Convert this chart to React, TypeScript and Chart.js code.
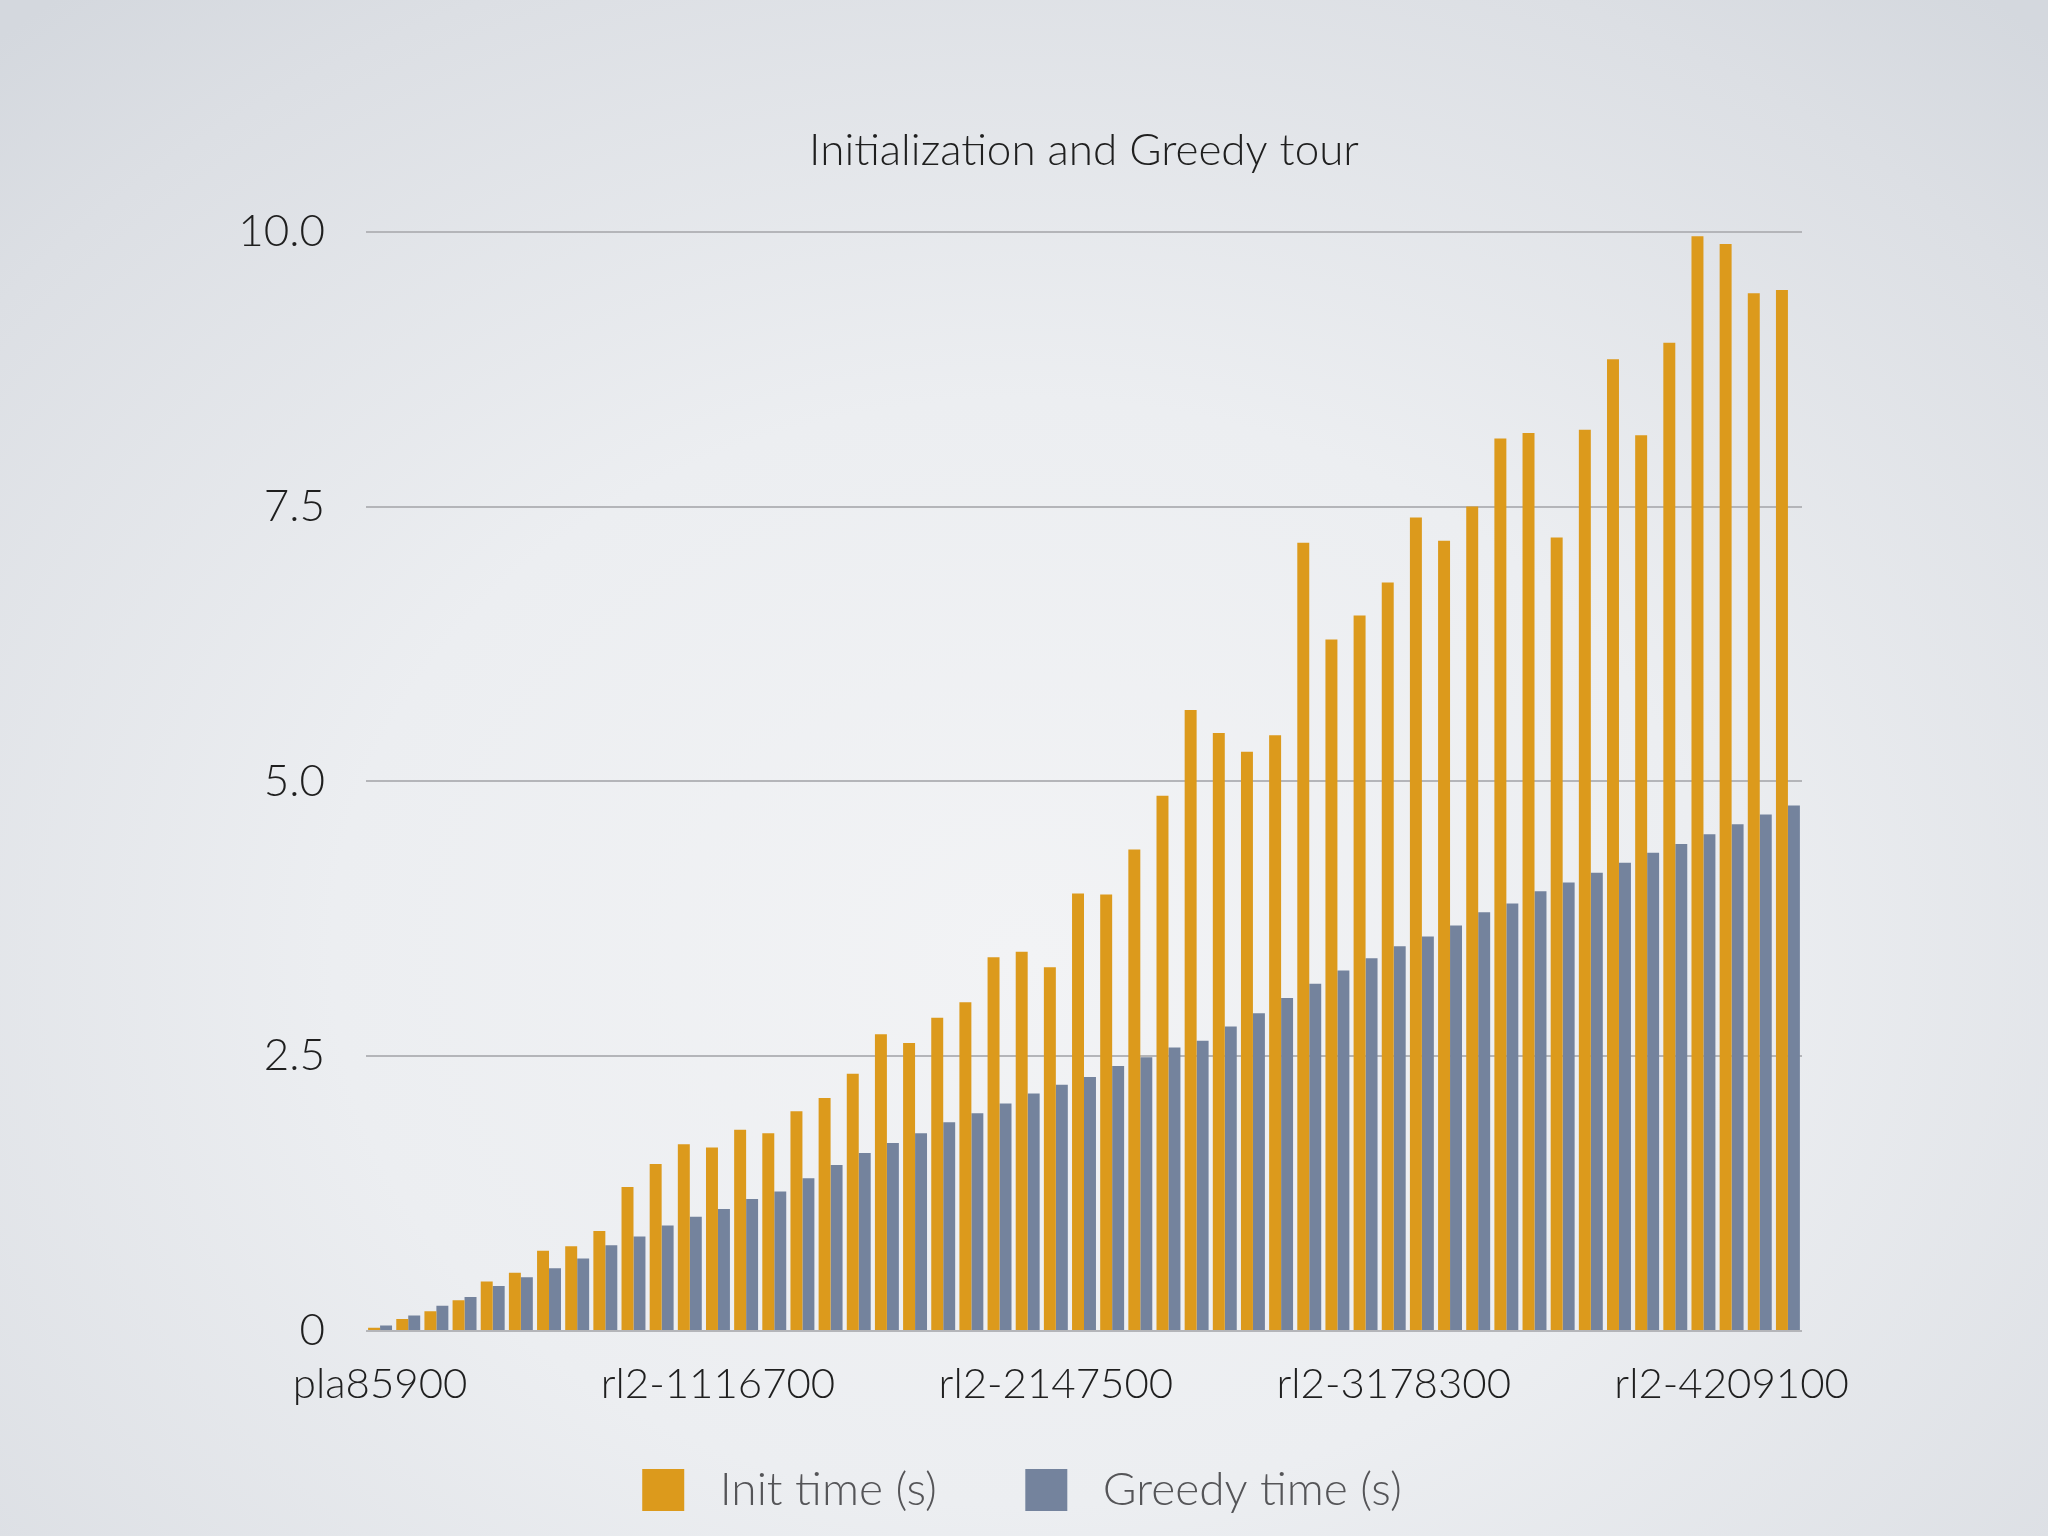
import { useEffect, useRef } from "react";
import { Chart, registerables } from "chart.js";

Chart.register(...registerables);

const CATEGORIES = [
  "pla85900", "rl2-171800", "rl2-257700", "rl2-343600", "rl2-429500", "rl2-515400",
  "rl2-601300", "rl2-687200", "rl2-773100", "rl2-859000", "rl2-944900", "rl2-1030800",
  "rl2-1116700", "rl2-1202600", "rl2-1288500", "rl2-1374400", "rl2-1460300", "rl2-1546200",
  "rl2-1632100", "rl2-1718000", "rl2-1803900", "rl2-1889800", "rl2-1975700", "rl2-2061600",
  "rl2-2147500", "rl2-2233400", "rl2-2319300", "rl2-2405200", "rl2-2491100", "rl2-2577000",
  "rl2-2662900", "rl2-2748800", "rl2-2834700", "rl2-2920600", "rl2-3006500", "rl2-3092400",
  "rl2-3178300", "rl2-3264200", "rl2-3350100", "rl2-3436000", "rl2-3521900", "rl2-3607800",
  "rl2-3693700", "rl2-3779600", "rl2-3865500", "rl2-3951400", "rl2-4037300", "rl2-4123200",
  "rl2-4209100", "rl2-4295000", "rl2-4380900",
];

const INIT_TIME = [
  0.03, 0.11, 0.18, 0.28, 0.45, 0.53, 0.73, 0.77, 0.91, 1.31,
  1.52, 1.70, 1.67, 1.83, 1.80, 2.00, 2.12, 2.34, 2.70, 2.62,
  2.85, 2.99, 3.40, 3.45, 3.31, 3.98, 3.97, 4.38, 4.87, 5.65,
  5.44, 5.27, 5.42, 7.17, 6.29, 6.51, 6.81, 7.40, 7.19, 7.50,
  8.12, 8.17, 7.22, 8.20, 8.84, 8.15, 8.99, 9.96, 9.89, 9.44,
  9.47,
];

const GREEDY_TIME = [
  0.05, 0.14, 0.23, 0.31, 0.41, 0.49, 0.57, 0.66, 0.78, 0.86,
  0.96, 1.04, 1.11, 1.20, 1.27, 1.39, 1.51, 1.62, 1.71, 1.80,
  1.90, 1.98, 2.07, 2.16, 2.24, 2.31, 2.41, 2.49, 2.58, 2.64,
  2.77, 2.89, 3.03, 3.16, 3.28, 3.39, 3.50, 3.59, 3.69, 3.81,
  3.89, 4.00, 4.08, 4.17, 4.26, 4.35, 4.43, 4.52, 4.61, 4.70,
  4.78,
];

const Y_TICKS = [0, 2.5, 5, 7.5, 10];
const LABEL_EVERY = 12;

const FONT = "Lato, 'Open Sans', sans-serif";

// the legend in the picture sits a bit left of the plot centre
const legendShift = {
  id: "legendShift",
  beforeDraw(chart: any) {
    if (chart.legend) {
      chart.legend.left -= 62;
      chart.legend.right -= 62;
    }
  },
};

export default function App() {
  const canvasRef = useRef<HTMLCanvasElement>(null);
  const chartRef = useRef<any>(null);

  useEffect(() => {
    document.body.style.margin = "0";
    document.body.style.overflow = "hidden";
    if (!canvasRef.current) return;
    if (chartRef.current) chartRef.current.destroy();

    const baseLabels = Chart.defaults.plugins.legend.labels.generateLabels;

    chartRef.current = new Chart(canvasRef.current, {
      type: "bar",
      data: {
        labels: CATEGORIES,
        datasets: [
          {
            label: "Init time (s)",
            data: INIT_TIME,
            backgroundColor: "#dc9a1c",
            borderWidth: 0,
          },
          {
            label: "Greedy time (s)",
            data: GREEDY_TIME,
            backgroundColor: "#74839d",
            borderWidth: 0,
          },
        ],
      },
      plugins: [legendShift],
      options: {
        responsive: false,
        animation: false,
        devicePixelRatio: 1,
        datasets: {
          bar: { categoryPercentage: 0.85, barPercentage: 1.0 },
        },
        layout: { padding: { top: 124, right: 246, bottom: 20, left: 0 } },
        plugins: {
          tooltip: { enabled: false },
          title: {
            display: true,
            fullSize: false,
            text: "Initialization and Greedy tour",
            color: "#1f1f1f",
            font: { family: FONT, size: 44, weight: "300" },
            padding: { top: 0, bottom: 55 },
          },
          legend: {
            position: "bottom",
            fullSize: false,
            maxHeight: 100,
            labels: {
              color: "#555558",
              font: { family: FONT, size: 46, weight: "300" },
              boxWidth: 42,
              boxHeight: 42,
              padding: 51,
              // wider gaps around the text, as in the picture
              generateLabels: (chart: any) =>
                baseLabels(chart).map((l: any, i: number) => ({
                  ...l,
                  text: " " + l.text + (i === 0 ? "   " : ""),
                })),
            },
          },
        },
        scales: {
          x: {
            afterFit: (scale: any) => {
              scale.height = 85;
            },
            grid: { display: false, drawTicks: false },
            border: { display: false },
            ticks: {
              autoSkip: false,
              maxRotation: 0,
              minRotation: 0,
              padding: 28,
              color: "#1f1f1f",
              font: { family: FONT, size: 42, weight: "300" },
              callback: (_v: any, i: number) =>
                i % LABEL_EVERY === 0 ? CATEGORIES[i] : "",
            },
          },
          y: {
            min: 0,
            max: 10,
            afterFit: (scale: any) => {
              scale.width = 366;
            },
            afterBuildTicks: (scale: any) => {
              scale.ticks = Y_TICKS.map((v) => ({ value: v }));
            },
            grid: { color: "#b4b5b9", lineWidth: 2, drawTicks: false },
            border: { display: false },
            ticks: {
              padding: 41,
              color: "#1f1f1f",
              font: { family: FONT, size: 44, weight: "300" },
              callback: (v: any) => (v === 0 ? "0" : Number(v).toFixed(1)),
            },
          },
        },
      },
    });

    return () => {
      if (chartRef.current) {
        chartRef.current.destroy();
        chartRef.current = null;
      }
    };
  }, []);

  return (
    <div
      style={{
        position: "fixed",
        left: 0,
        top: 0,
        width: 2048,
        height: 1536,
        background:
          "radial-gradient(ellipse 75% 80% at 50% 62%, #f2f3f5 0%, #eceef1 45%, #dcdfe4 85%, #d4d8de 100%)",
      }}
    >
      <canvas ref={canvasRef} width={2048} height={1536} />
    </div>
  );
}
